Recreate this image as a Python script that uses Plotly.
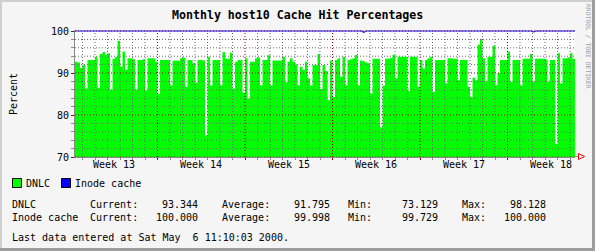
import plotly.graph_objects as go

# ---------------- data ----------------
title = "Monthly host10 Cache Hit Percentages"
y_label = "Percent"
step_days = 0.2          # one sample = 0.2 day (40 days shown)
span_days = 40
week_labels = ["Week 13", "Week 14", "Week 15", "Week 16", "Week 17", "Week 18"]
week_bounds = [6.6, 13.6, 20.6, 27.6, 34.6]        # Monday 00:00 positions (days)
week_mids = [3.1, 10.1, 17.1, 24.1, 31.1, 38.1]
day_start = 0.6                                    # first midnight (days)
y_ticks = [70, 80, 90, 100]
y_minor_step = 2

dnlc = [
    92.7, 92.5, 91.2, 92.0, 86.3, 93.1, 93.1, 93.1, 93.9, 86.5,
    94.5, 95.0, 94.3, 94.7, 86.0, 93.4, 93.8, 97.6, 91.5, 95.1,
    90.8, 93.5, 93.5, 93.3, 86.1, 93.1, 93.1, 93.3, 85.9, 93.5,
    93.5, 93.5, 92.7, 85.0, 93.1, 93.1, 93.1, 93.1, 87.1, 92.9,
    92.9, 92.9, 93.5, 93.7, 86.7, 93.1, 93.1, 92.3, 87.7, 93.1,
    93.1, 93.0, 75.1, 93.9, 87.0, 93.1, 93.1, 93.1, 87.1, 95.0,
    93.4, 93.4, 94.8, 86.3, 92.7, 93.1, 93.1, 85.3, 93.5, 83.9,
    92.7, 92.7, 93.5, 93.7, 87.1, 93.1, 93.1, 94.2, 87.1, 93.0,
    93.0, 93.0, 93.0, 93.9, 87.8, 92.7, 93.5, 92.7, 92.1, 87.1,
    91.5, 90.8, 92.7, 88.7, 87.0, 91.9, 91.9, 94.5, 86.2, 91.9,
    90.5, 83.5, 93.0, 84.3, 93.1, 93.5, 89.1, 93.9, 87.1, 93.1,
    93.3, 93.5, 94.3, 87.1, 93.0, 92.8, 92.5, 92.3, 85.1, 93.4,
    93.4, 93.4, 77.1, 87.0, 93.4, 93.4, 93.6, 94.3, 88.7, 93.9,
    93.9, 93.9, 93.9, 85.7, 93.9, 93.9, 93.9, 86.7, 93.1, 91.1,
    93.1, 93.5, 93.9, 85.5, 93.1, 93.1, 93.1, 93.1, 87.5, 93.5,
    93.5, 93.4, 93.4, 88.3, 93.1, 93.1, 93.1, 86.7, 84.3, 88.9,
    88.3, 96.7, 98.1, 93.5, 88.0, 93.9, 93.9, 96.5, 87.1, 90.0,
    93.1, 93.1, 93.1, 95.1, 87.9, 93.1, 93.1, 93.1, 87.1, 93.4,
    93.4, 93.4, 94.5, 87.9, 93.4, 93.4, 93.4, 93.4, 93.2, 87.9,
    93.1, 93.1, 73.1, 94.7, 87.5, 93.5, 93.5, 93.7, 94.7, 93.344,
]

inode = [
    100.0, 100.0, 100.0, 100.0, 100.0, 100.0, 100.0, 100.0, 100.0, 100.0,
    100.0, 100.0, 100.0, 100.0, 100.0, 100.0, 100.0, 100.0, 100.0, 100.0,
    100.0, 100.0, 100.0, 100.0, 100.0, 100.0, 100.0, 100.0, 100.0, 100.0,
    100.0, 100.0, 100.0, 100.0, 100.0, 100.0, 100.0, 100.0, 100.0, 100.0,
    100.0, 100.0, 100.0, 100.0, 100.0, 100.0, 100.0, 100.0, 100.0, 100.0,
    100.0, 100.0, 100.0, 100.0, 100.0, 100.0, 100.0, 100.0, 100.0, 100.0,
    100.0, 100.0, 100.0, 100.0, 100.0, 100.0, 100.0, 100.0, 100.0, 100.0,
    100.0, 100.0, 100.0, 100.0, 100.0, 100.0, 100.0, 100.0, 100.0, 100.0,
    100.0, 100.0, 100.0, 100.0, 100.0, 100.0, 100.0, 100.0, 100.0, 100.0,
    100.0, 100.0, 100.0, 100.0, 100.0, 100.0, 100.0, 100.0, 100.0, 100.0,
    100.0, 100.0, 100.0, 100.0, 100.0, 100.0, 100.0, 100.0, 100.0, 100.0,
    100.0, 100.0, 100.0, 100.0, 100.0, 99.729, 100.0, 100.0, 100.0, 100.0,
    100.0, 100.0, 100.0, 100.0, 100.0, 100.0, 100.0, 100.0, 100.0, 100.0,
    100.0, 100.0, 100.0, 100.0, 100.0, 100.0, 100.0, 100.0, 100.0, 100.0,
    100.0, 100.0, 100.0, 100.0, 100.0, 100.0, 100.0, 100.0, 100.0, 100.0,
    100.0, 100.0, 100.0, 100.0, 100.0, 100.0, 100.0, 100.0, 100.0, 100.0,
    100.0, 100.0, 100.0, 100.0, 100.0, 100.0, 100.0, 100.0, 100.0, 100.0,
    100.0, 100.0, 100.0, 100.0, 100.0, 100.0, 100.0, 100.0, 100.0, 100.0,
    100.0, 100.0, 100.0, 99.8, 100.0, 100.0, 100.0, 100.0, 100.0, 100.0,
    100.0, 100.0, 100.0, 100.0, 100.0, 100.0, 100.0, 100.0, 100.0, 100.0,
]

series_names = ["DNLC", "Inode cache"]
series_colors = ["#00ff00", "#0000ff"]
stat_current = ["93.344", "100.000"]
stat_average = ["91.795", "99.998"]
stat_min = ["73.129", "99.729"]
stat_max = ["98.128", "100.000"]
footer = "Last data entered at Sat May  6 11:10:03 2000."
side_text = "RRDTOOL / TOBI OETIKER"

# ---------------- layout helpers ----------------
W, H = 595, 251
L, R, T, B = 75, 20, 30, 94
PW, PH = W - L - R, H - T - B
FONT = "DejaVu Sans Mono"
BG = "#f5f5f5"
GRID = "#8a8a8a"
GRID_DOTS = "#6a6a6a"
MGRID = "#8f0000"
Y_TOP = 100.24


def px(x):
    return (x - L) / PW


def py(y):
    return (H - B - y) / PH


t = [i * step_days for i in range(len(dnlc))] + [span_days]
dnlc_y = dnlc + [dnlc[-1]]
inode_y = inode + [inode[-1]]

fig = go.Figure()
fig.add_trace(go.Scatter(
    x=t, y=dnlc_y, mode="lines", line=dict(shape="hv", width=0, color="#00ff00"),
    fill="tozeroy", fillcolor="#00ff00", hoverinfo="skip", showlegend=False))
fig.add_trace(go.Scatter(
    x=t, y=inode_y, mode="lines", line=dict(shape="hv", width=1, color="#0000ff"),
    hoverinfo="skip", showlegend=False))

ann = []
ann.append(dict(text="<b>" + title + "</b>", xref="paper", yref="paper",
                x=px(W / 2), y=py(15), xanchor="center", yanchor="middle",
                showarrow=False, font=dict(family=FONT, size=11.6, color="black")))
ann.append(dict(text=y_label, xref="paper", yref="paper", x=px(13), y=py(94),
                xanchor="center", yanchor="middle", textangle=-90, showarrow=False,
                font=dict(family=FONT, size=10, color="black")))
ann.append(dict(text=side_text, xref="paper", yref="paper", x=px(588.5), y=py(46.5),
                xanchor="center", yanchor="middle", textangle=90, showarrow=False,
                font=dict(family=FONT, size=6.4, color="#9e9e9e")))
for lab, xm in zip(week_labels, week_mids):
    ann.append(dict(text=lab, xref="x", yref="paper", x=xm, y=py(164.7),
                    xanchor="center", yanchor="middle", showarrow=False,
                    font=dict(family=FONT, size=10, color="black")))

CW = 6.0


def col(c):
    return 12 + CW * c


def txt(s, x, y, anchor="left"):
    ann.append(dict(text=s, xref="paper", yref="paper", x=px(x), y=py(y),
                    xanchor=anchor, yanchor="middle", showarrow=False,
                    borderpad=0, borderwidth=0,
                    font=dict(family=FONT, size=10, color="black")))


legend_x = [12, 61]
shapes = []

# grid drawn over the data (as rrdtool does)
dash_minor = "1px,2px"
dash_major = "1px,2px"
y_minor_vals = [v for v in range(y_ticks[0], y_ticks[-1] + 1, y_minor_step) if v not in y_ticks]
for v in y_minor_vals:
    shapes.append(dict(type="line", layer="above", xref="paper", yref="y", x0=0, x1=1, y0=v, y1=v,
                       line=dict(color=GRID_DOTS, width=1, dash=dash_minor)))
x_minor_vals = [day_start + k for k in range(span_days) if all(abs(day_start + k - w) > 1e-6 for w in week_bounds)]
for v in x_minor_vals:
    shapes.append(dict(type="line", layer="above", xref="x", yref="paper", x0=v, x1=v, y0=0, y1=py(31),
                       line=dict(color=GRID_DOTS, width=1, dash=dash_minor)))
for v in y_ticks:
    shapes.append(dict(type="line", layer="above", xref="paper", yref="y", x0=0, x1=1, y0=v, y1=v,
                       line=dict(color=MGRID, width=1, dash=dash_major)))
for v in week_bounds:
    shapes.append(dict(type="line", layer="above", xref="x", yref="paper", x0=v, x1=v, y0=0, y1=py(31),
                       line=dict(color=MGRID, width=1, dash=dash_major)))

for name, colr, lx in zip(series_names, series_colors, legend_x):
    shapes.append(dict(type="rect", xref="paper", yref="paper",
                       x0=px(lx + 0.5), x1=px(lx + 9.5), y0=py(187.5), y1=py(178.5),
                       fillcolor=colr, line=dict(color="black", width=1)))
    txt(name, lx + 14, 183)

rows_y = [204.5, 217.5]
for k in range(2):
    yy = rows_y[k]
    txt(series_names[k], col(0), yy)
    txt("Current:", col(13), yy)
    txt(stat_current[k], col(31), yy, "right")
    txt("Average:", col(35), yy)
    txt(stat_average[k], col(53), yy, "right")
    txt("Min:", col(56), yy)
    txt(stat_min[k], col(71), yy, "right")
    txt("Max:", col(75), yy)
    txt(stat_max[k], col(89), yy, "right")
txt(footer, col(0), 237.3)

shapes += [
    dict(type="line", xref="paper", yref="paper", x0=px(0), x1=px(W), y0=py(1), y1=py(1),
         line=dict(color="#cfcfcf", width=2)),
    dict(type="line", xref="paper", yref="paper", x0=px(1), x1=px(1), y0=py(0), y1=py(H),
         line=dict(color="#cfcfcf", width=2)),
    dict(type="line", xref="paper", yref="paper", x0=px(0), x1=px(W), y0=py(H - 1.5), y1=py(H - 1.5),
         line=dict(color="#9e9e9e", width=3)),
    dict(type="line", xref="paper", yref="paper", x0=px(W - 1.5), x1=px(W - 1.5), y0=py(0), y1=py(H),
         line=dict(color="#9e9e9e", width=3)),
    dict(type="line", xref="paper", yref="paper", x0=px(575), x1=px(578), y0=py(156.5), y1=py(156.5),
         line=dict(color=GRID, width=1)),
    dict(type="path", xref="paper", yref="paper",
         path="M {0},{1} L {2},{3} L {0},{4} Z".format(px(578.5), py(153.5), px(584.5), py(156.5), py(159.5)),
         line=dict(color="#ff0000", width=1), fillcolor="rgba(0,0,0,0)"),
]

fig.update_layout(
    width=W, height=H, autosize=False,
    margin=dict(l=L, r=R, t=T, b=B, pad=0),
    paper_bgcolor=BG, plot_bgcolor="white",
    showlegend=False,
    annotations=ann, shapes=shapes,
    xaxis=dict(
        range=[0, span_days], tickmode="array", tickvals=week_bounds,
        showticklabels=False, ticks="outside", ticklen=2, tickcolor=MGRID, tickwidth=1,
        showgrid=False, showline=True, linecolor=GRID, linewidth=1, zeroline=False,
        layer="above traces", fixedrange=True,
        minor=dict(tickmode="linear", tick0=day_start, dtick=1, showgrid=False,
                   ticks="outside", ticklen=2, tickcolor=GRID),
    ),
    yaxis=dict(
        range=[70, Y_TOP], tickmode="array", tickvals=y_ticks,
        ticktext=[str(v) for v in y_ticks],
        tickfont=dict(family=FONT, size=10, color="black"),
        ticks="outside", ticklen=3, tickcolor=MGRID, tickwidth=1,
        showgrid=False, showline=True, linecolor=GRID, linewidth=1, zeroline=False,
        layer="above traces", fixedrange=True,
        minor=dict(tickmode="linear", tick0=70, dtick=y_minor_step, showgrid=False,
                   ticks="outside", ticklen=3, tickcolor=GRID),
    ),
    yaxis2=dict(
        overlaying="y", side="right", range=[70, Y_TOP], tickmode="array",
        tickvals=y_ticks, showticklabels=False, ticks="outside", ticklen=3,
        tickcolor=MGRID, showgrid=False, showline=False, zeroline=False,
        fixedrange=True,
        minor=dict(tickmode="linear", tick0=70, dtick=y_minor_step, ticks="outside",
                   ticklen=3, tickcolor=GRID, showgrid=False),
    ),
)

fig.write_html("out.html", config={"displayModeBar": False})
